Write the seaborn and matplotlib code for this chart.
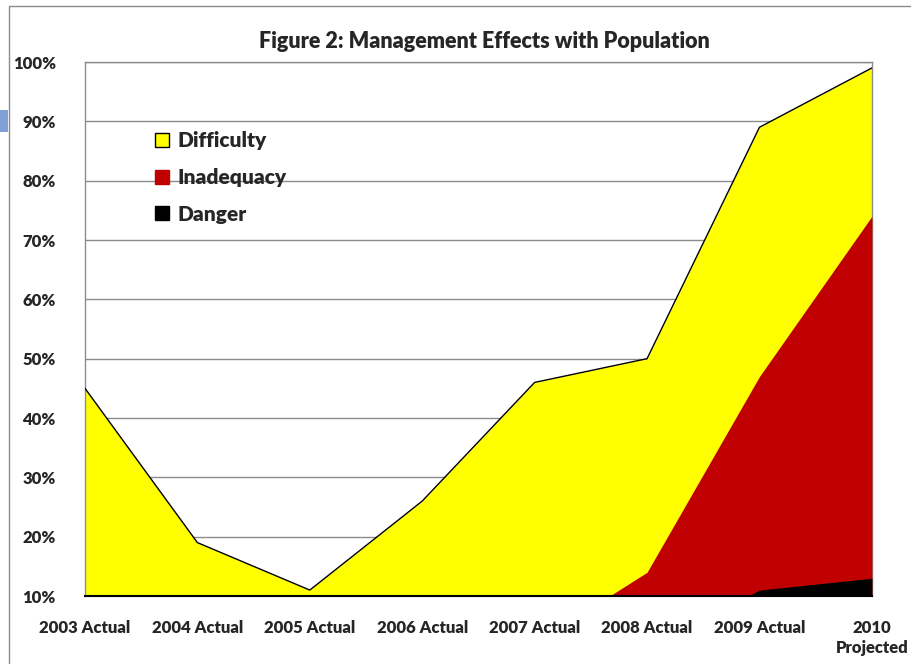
import numpy as np
import matplotlib
matplotlib.use("Agg")
import matplotlib.pyplot as plt
from matplotlib.patches import Patch, Rectangle
import seaborn as sns

# Values (percent)
years = ["2003 Actual", "2004 Actual", "2005 Actual", "2006 Actual",
         "2007 Actual", "2008 Actual", "2009 Actual", "2010\nProjected"]
difficulty = [45, 19, 11, 26, 46, 50, 89, 99]
inadequacy = [0, 0, 0, 0, 2, 14, 47, 74]
danger = [0, 0, 0, 0, 0, 1, 11, 13]

yellow = "#ffff00"
red = "#c00000"
black = "#000000"
wt = "heavy"

sns.set_style("white")
plt.rcParams['font.family'] = ['Lato', 'DejaVu Sans']

fig = plt.figure(figsize=(9.12, 6.64), dpi=100)
ax = fig.add_axes([0.0932, 0.1024, 0.956 - 0.0932, 0.9066 - 0.1024])

x = np.arange(len(years))
d = np.array(difficulty) / 100
r = np.array(inadequacy) / 100
k = np.array(danger) / 100

# gridlines
ax.set_ylim(0.1, 1.0)
ax.set_xlim(0, len(years) - 1)
ax.set_yticks(np.arange(0.1, 1.01, 0.1))
ax.yaxis.grid(True, color="#8c8c8c", linewidth=1)
ax.set_axisbelow(True)

# overlapping areas, all filled from 0 and clipped at the 10% floor
ax.fill_between(x, 0, d, color=yellow, linewidth=0, zorder=2)
sns.lineplot(x=x, y=d, ax=ax, color="black", linewidth=1, zorder=3)
ax.fill_between(x, 0, r, color=red, linewidth=0, zorder=4)
ax.fill_between(x, 0, k, color=black, linewidth=0, zorder=5)

ax.set_xticks(x)
ax.set_xticklabels(years, fontsize=12, fontweight=wt, linespacing=1.3)
ax.set_yticklabels([f"{int(round(v * 100))}%" for v in ax.get_yticks()],
                   fontsize=12, fontweight=wt)
ax.tick_params(axis="both", length=0)
ax.tick_params(axis="x", pad=17)
ax.tick_params(axis="y", pad=21)

for s in ["top", "right", "left"]:
    ax.spines[s].set_color("#8c8c8c")
    ax.spines[s].set_linewidth(1)
ax.spines["bottom"].set_color("black")
ax.spines["bottom"].set_linewidth(1.5)
ax.spines["bottom"].set_zorder(6)

fig.text(0.531, 0.938, "Figure 2: Management Effects with Population",
         ha="center", va="center", fontsize=15.5, fontweight=wt)

handles = [Patch(facecolor=yellow, edgecolor="black", linewidth=1),
           Patch(facecolor=red, edgecolor=red),
           Patch(facecolor=black, edgecolor=black)]
leg = ax.legend(handles, ["Difficulty", "Inadequacy", "Danger"],
                loc="upper left", bbox_to_anchor=(0.079, 0.886),
                frameon=False, prop={"size": 15, "weight": wt},
                handlelength=0.65, handleheight=0.65, handletextpad=0.4,
                labelspacing=0.85, borderaxespad=0)

# outer chart frame and the small blue tab on the left edge
fig.patches.append(Rectangle((9 / 912, -0.2), 1.2, 0.991 + 0.2, transform=fig.transFigure,
                             fill=False, edgecolor="#8c8c8c", linewidth=1))
fig.patches.append(Rectangle((0, 1 - 132 / 664), 8 / 912, 22 / 664, transform=fig.transFigure,
                             facecolor="#7f9fd8", edgecolor="none"))

fig.savefig("out.png", dpi=100)
